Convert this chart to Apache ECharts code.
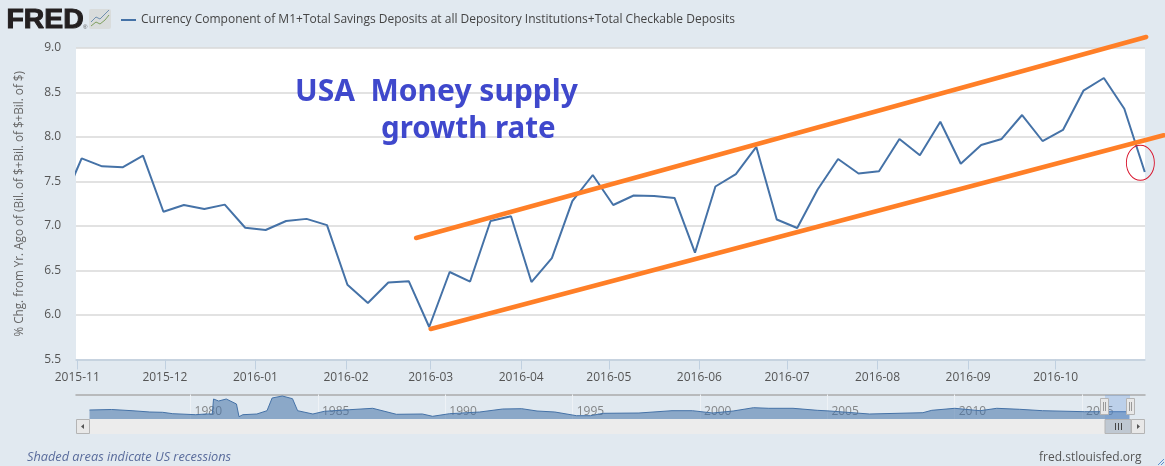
<!DOCTYPE html>
<html>
<head>
<meta charset="utf-8">
<style>html,body{margin:0;padding:0;background:#e1e9f0}#c{width:1165px;height:466px}</style>
<script src="https://cdn.jsdelivr.net/npm/echarts@6/dist/echarts.min.js"></script>
</head>
<body>
<div id="c"></div>
<script>
const seriesName = 'Currency Component of M1+Total Savings Deposits at all Depository Institutions+Total Checkable Deposits';
const yAxisName = '% Chg. from Yr. Ago of (Bil. of $+Bil. of $+Bil. of $)';

const weeks = ['2015-10-26',
 '2015-11-02','2015-11-09','2015-11-16','2015-11-23','2015-11-30',
 '2015-12-07','2015-12-14','2015-12-21','2015-12-28',
 '2016-01-04','2016-01-11','2016-01-18','2016-01-25',
 '2016-02-01','2016-02-08','2016-02-15','2016-02-22','2016-02-29',
 '2016-03-07','2016-03-14','2016-03-21','2016-03-28',
 '2016-04-04','2016-04-11','2016-04-18','2016-04-25',
 '2016-05-02','2016-05-09','2016-05-16','2016-05-23','2016-05-30',
 '2016-06-06','2016-06-13','2016-06-20','2016-06-27',
 '2016-07-04','2016-07-11','2016-07-18','2016-07-25',
 '2016-08-01','2016-08-08','2016-08-15','2016-08-22','2016-08-29',
 '2016-09-05','2016-09-12','2016-09-19','2016-09-26',
 '2016-10-03','2016-10-10','2016-10-17','2016-10-24','2016-10-31'];
const growth = [7.225,
 7.76,7.67,7.66,7.79,7.16,
 7.236,7.19,7.24,6.98,
 6.955,7.056,7.08,7.01,
 6.34,6.135,6.365,6.38,5.865,
 6.483,6.376,7.056,7.11,
 6.37,6.64,7.28,7.573,
 7.236,7.343,7.337,7.315,6.70,
 7.444,7.584,7.888,7.073,
 6.978,7.41,7.753,7.59,
 7.615,7.978,7.795,8.172,7.70,
 7.91,7.978,8.247,7.955,
 8.079,8.52,8.663,8.318,7.607];

const monthTicks = ['2015-11-01','2015-12-01','2016-01-01','2016-02-01','2016-03-01','2016-04-01','2016-05-01','2016-06-01','2016-07-01','2016-08-01','2016-09-01','2016-10-01'];
const monthLabels = ['2015-11','2015-12','2016-01','2016-02','2016-03','2016-04','2016-05','2016-06','2016-07','2016-08','2016-09','2016-10'];

const upperTrendDates = ['2016-02-25','2016-11-01'];
const upperTrendValues = [6.865,9.124];
const lowerTrendDates = ['2016-03-01','2016-11-07'];
const lowerTrendValues = [5.843,8.02];
const circleDate = '2016-10-30';
const circleValue = 7.71;

const navYears = [1976.03,1976.9,1977.7,1978.4,1978.9,1979.3,1980.2,1980.6,1980.85,1980.9,1981.1,1981.4,1981.8,1981.9,1982.05,1982.6,1983,1983.2,1983.6,1984,1984.2,1984.8,1985.25,1986.25,1987.15,1988.08,1989.1,1989.5,1990.17,1991.35,1992.25,1993,1993.6,1994.3,1995.15,1995.7,1996.2,1997.6,1998.9,1999.7,2000.5,2001.3,2002.1,2002.7,2003.65,2004.6,2005.1,2006.65,2008.75,2009.1,2010,2011,2011.65,2012.55,2013.45,2015.1,2016.85];
const navHeights = [9,9.5,8.3,7,6.7,5.3,4.3,5,5,20,18,20,15,2.3,4.3,5,8.3,21,23,20.3,8.3,5,7.7,9.3,10.7,4.7,5,2.7,5.3,7,10,10.3,8,7,3.3,3.3,5.7,6,8.3,8.3,6,8,11.3,10.7,10.7,8.7,8,5,6.3,8.7,10.7,8.3,10.7,9.7,8.3,7.3,7.3];
const navYearTicks = [1980,1985,1990,1995,2000,2005,2010,2015];

const stamp = d => Date.parse(d + 'T00:00:00Z');
const weekStamp = d => Date.parse(d + 'T12:00:00Z');
const FONT = '"Open Sans", sans-serif';
const monthStamps = monthTicks.map(stamp);
const xMin = Date.parse('2015-10-31T13:30:00Z');
const xMax = Date.parse('2016-10-31T14:00:00Z');
const plotWidth = 1069;
const overlayWidth = 1089;   // the hand-drawn channel lines run past the plot, up to the image edge

const chart = echarts.init(document.getElementById('c'), null, {renderer:'canvas'});

const frame = '#b4b4b4', btn = '#e8e8e8';
const graphic = [
  // FRED logo
  {type:'text', left:6, top:7, z:20, scaleX:1.05, style:{text:'FRED', font:'bold 27px "Liberation Sans"', fill:'#231f20', stroke:'#231f20', lineWidth:1}},
  {type:'text', left:83, top:24, z:20, style:{text:'®', font:'6px "Liberation Sans"', fill:'#555'}},
  {type:'rect', z:20, shape:{x:89,y:9,width:22,height:20,r:2}, style:{fill:'#d9dcdc'}},
  {type:'polyline', z:21, shape:{points:[[91,22],[96,17],[100,19],[105,14],[109,10]]}, style:{stroke:'#6f8fb0',lineWidth:1,fill:'none'}},
  {type:'polyline', z:21, shape:{points:[[91,26],[96,22],[100,24],[105,20],[109,15]]}, style:{stroke:'#7fa060',lineWidth:1,fill:'none'}},
  // annotation text
  {type:'text', z:20, left:295, top:77, style:{text:'USA  Money supply', font:'bold 30px "Noto Sans"', fill:'#3f48cc'}},
  {type:'text', z:20, left:381, top:115, style:{text:'growth rate', font:'bold 29.5px "Noto Sans"', fill:'#3f48cc'}},
  // navigator selection
  {type:'rect', z:20, shape:{x:1105,y:395,width:25,height:24}, style:{fill:'rgba(102,153,221,0.3)'}},
  // scrollbar
  {type:'rect', z:20, shape:{x:90,y:419,width:1041,height:15}, style:{fill:'#ececec'}},
  {type:'rect', z:21, shape:{x:76.5,y:419.5,width:13,height:14}, style:{fill:btn,stroke:frame}},
  {type:'polygon', z:22, shape:{points:[[81,426.5],[84,424],[84,429]]}, style:{fill:'#555'}},
  {type:'rect', z:21, shape:{x:1131.5,y:419.5,width:13,height:14}, style:{fill:btn,stroke:frame}},
  {type:'polygon', z:22, shape:{points:[[1140,426.5],[1137,424],[1137,429]]}, style:{fill:'#555'}},
  {type:'rect', z:21, shape:{x:1105,y:419.5,width:26,height:14}, style:{fill:'#bfc8d2',stroke:frame}},
  {type:'line', z:22, shape:{x1:1115.5,y1:423,x2:1115.5,y2:430}, style:{stroke:'#444'}},
  {type:'line', z:22, shape:{x1:1118.5,y1:423,x2:1118.5,y2:430}, style:{stroke:'#444'}},
  {type:'line', z:22, shape:{x1:1121.5,y1:423,x2:1121.5,y2:430}, style:{stroke:'#444'}},
  // navigator handles
  {type:'rect', z:23, shape:{x:1100.5,y:398.5,width:8,height:16}, style:{fill:btn,stroke:frame}},
  {type:'line', z:24, shape:{x1:1103.5,y1:402,x2:1103.5,y2:411}, style:{stroke:'#999'}},
  {type:'line', z:24, shape:{x1:1105.5,y1:402,x2:1105.5,y2:411}, style:{stroke:'#999'}},
  {type:'rect', z:23, shape:{x:1126.5,y:398.5,width:8,height:16}, style:{fill:btn,stroke:frame}},
  {type:'line', z:24, shape:{x1:1129.5,y1:402,x2:1129.5,y2:411}, style:{stroke:'#999'}},
  {type:'line', z:24, shape:{x1:1131.5,y1:402,x2:1131.5,y2:411}, style:{stroke:'#999'}},
  // footer
  {type:'text', z:20, left:27, top:451, style:{text:'Shaded areas indicate US recessions', font:'italic 12.75px "Open Sans"', fill:'#5a6c9c'}},
  {type:'text', z:20, left:1039, top:452, style:{text:'fred.stlouisfed.org', font:'12px "Open Sans"', fill:'#555'}},
  // resize grip
  {type:'line', z:20, shape:{x1:1158,y1:465,x2:1164,y2:459}, style:{stroke:'#5b8fd0'}},
  {type:'line', z:20, shape:{x1:1161,y1:465,x2:1164,y2:462}, style:{stroke:'#5b8fd0'}}
];

chart.setOption({
  animation:false,
  backgroundColor:'#e1e9f0',
  textStyle:{fontFamily:FONT},
  legend:{
    data:[seriesName], left:116, top:9, itemWidth:15, itemHeight:2, icon:'rect', itemGap:4,
    textStyle:{color:'#444', fontSize:12, fontFamily:FONT}
  },
  grid:[
    {left:76, top:48, width:plotWidth, height:311.5, show:true, backgroundColor:'#fff', borderWidth:0},
    {left:76, top:394.5, width:plotWidth, height:24.5, show:false},
    {left:76, top:48, width:overlayWidth, height:311.5, show:false}
  ],
  xAxis:[
    {type:'value', gridIndex:0, min:xMin, max:xMax,
     axisLine:{show:true, onZero:false, lineStyle:{color:'#c0d0e0', width:1.5}},
     axisTick:{show:true, length:10, lineStyle:{color:'#c0d0e0'}, customValues:monthStamps},
     splitLine:{show:false},
     axisLabel:{customValues:monthStamps, hideOverlap:false, showMinLabel:true, showMaxLabel:true, margin:12, color:'#555', fontSize:12, fontFamily:FONT,
       formatter:v => monthLabels[monthStamps.indexOf(v)] || ''}},
    {type:'value', gridIndex:1, position:'top', min:1975.5, max:2017.47,
     axisLine:{show:true, onZero:false, lineStyle:{color:'#aaaaaa', width:1.5}},
     axisTick:{show:false}, splitLine:{show:false},
     axisLabel:{inside:true, customValues:navYearTicks, hideOverlap:false, align:'left', padding:[0,0,0,4], margin:11, color:'rgba(90,90,90,0.7)', fontSize:12, fontFamily:FONT, formatter:v => String(v)}},
    {type:'value', gridIndex:2, show:false, min:xMin, max:xMin + (xMax - xMin) * overlayWidth / plotWidth, splitLine:{show:false}}
  ],
  yAxis:[
    {type:'value', gridIndex:0, min:5.5, max:9, interval:0.5,
     name:yAxisName, nameLocation:'middle', nameGap:50, nameRotate:90,
     nameTextStyle:{color:'#666', fontSize:11.7, fontFamily:FONT, padding:[0,0,0,0]},
     axisLine:{show:false}, axisTick:{show:false},
     splitLine:{show:true, lineStyle:{color:'#d9d9d9', width:1.5}},
     axisLabel:{margin:15, color:'#555', fontSize:12, fontFamily:FONT, lineHeight:14, verticalAlignMinLabel:'middle', formatter:v => v.toFixed(1)}},
    {type:'value', gridIndex:1, min:0, max:24.5, show:false, splitLine:{show:false}},
    {type:'value', gridIndex:2, min:5.5, max:9, interval:0.5, show:false, splitLine:{show:false}}
  ],
  series:[
    {name:seriesName, type:'line', xAxisIndex:0, yAxisIndex:0, showSymbol:false, z:3,
     data:weeks.map((d,i)=>[weekStamp(d),growth[i]]),
     lineStyle:{color:'#4572a7', width:2}, itemStyle:{color:'#4572a7'}},
    {name:'Upper channel', type:'line', xAxisIndex:2, yAxisIndex:2, showSymbol:false, clip:false, z:4,
     data:upperTrendDates.map((d,i)=>[stamp(d),upperTrendValues[i]]),
     lineStyle:{color:'#ff7f27', width:4.5, cap:'round'}},
    {name:'Lower channel', type:'line', xAxisIndex:2, yAxisIndex:2, showSymbol:false, clip:false, z:4,
     data:lowerTrendDates.map((d,i)=>[stamp(d),lowerTrendValues[i]]),
     lineStyle:{color:'#ff7f27', width:4.5, cap:'round'}},
    {name:'Circled point', type:'scatter', xAxisIndex:0, yAxisIndex:0, clip:false, z:5, symbol:'circle', symbolSize:[28,35],
     data:[[stamp(circleDate),circleValue]],
     itemStyle:{color:'transparent', borderColor:'#d8142c', borderWidth:1, opacity:1}},
    {name:'Navigator', type:'line', xAxisIndex:1, yAxisIndex:1, showSymbol:false, z:2,
     data:navYears.map((y,i)=>[y,navHeights[i]]),
     lineStyle:{color:'#4572a7', width:1}, areaStyle:{color:'#4572a7', opacity:0.55},
     markLine:{silent:true, symbol:'none', z:1, label:{show:false}, animation:false,
       lineStyle:{color:'#eef2f6', width:1, type:'solid'},
       data:navYearTicks.map(y=>({xAxis:y}))}}
  ],
  graphic:graphic
});
</script>
</body>
</html>
